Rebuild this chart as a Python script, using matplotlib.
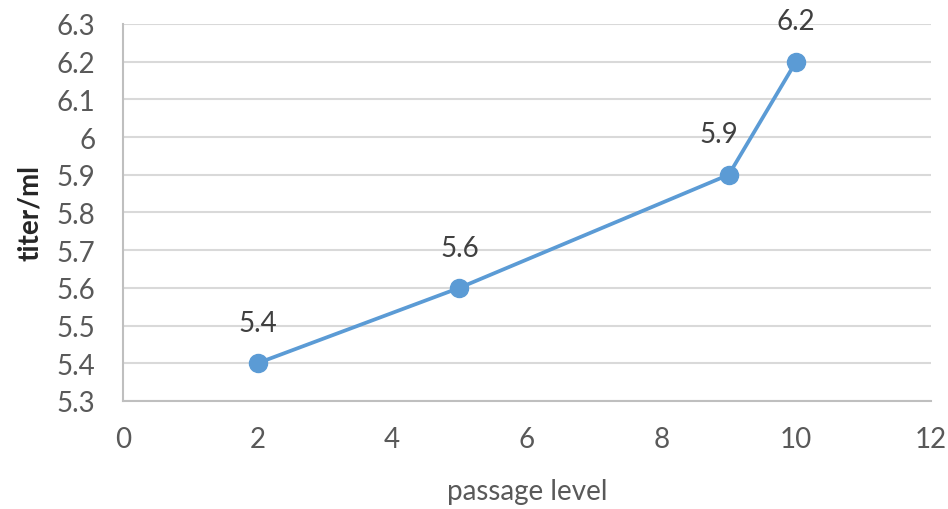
import matplotlib.pyplot as plt

passage = [2, 5, 9, 10]
titer = [5.4, 5.6, 5.9, 6.2]
labels = ['5.4', '5.6', '5.9', '6.2']
xticks = [0, 2, 4, 6, 8, 10, 12]
yticks = [5.3, 5.4, 5.5, 5.6, 5.7, 5.8, 5.9, 6.0, 6.1, 6.2, 6.3]
ytick_labels = ['5.3', '5.4', '5.5', '5.6', '5.7', '5.8', '5.9', '6', '6.1', '6.2', '6.3']

plt.rcParams['font.family'] = ['Lato', 'DejaVu Sans']
grey = '#595959'

fig = plt.figure(figsize=(9.48, 5.10), dpi=100)
ax = fig.add_axes([0.1297, 0.212, 0.852, 0.739])

ax.plot(passage, titer, color='#5B9BD5', linewidth=2.7, marker='o', markersize=13, zorder=3)
for x, y, t in zip(passage, titer, labels):
    dx = -7 if x == 9 else 0
    ax.annotate(t, (x, y), xytext=(dx, 29), textcoords='offset points', ha='center', va='center',
                fontsize=20, color='#404040')

ax.set_xlim(0, 12)
ax.set_ylim(5.3, 6.3)
ax.set_xticks(xticks)
ax.set_yticks(yticks)
ax.set_yticklabels(ytick_labels)
ax.tick_params(length=0, labelsize=20, labelcolor=grey)
ax.tick_params(axis='y', pad=20)
ax.tick_params(axis='x', pad=18)
ax.grid(axis='y', color='#d9d9d9', linewidth=1.5)
ax.set_axisbelow(True)
for s in ['top', 'right']:
    ax.spines[s].set_visible(False)
for s in ['left', 'bottom']:
    ax.spines[s].set_color('#bfbfbf')
    ax.spines[s].set_linewidth(1.5)

ax.set_xlabel('passage level', fontsize=20, color=grey, labelpad=19)
ax.set_ylabel('titer/ml', fontsize=20, color='#262626', fontweight='bold', labelpad=10)

fig.savefig('out.png', dpi=100)
